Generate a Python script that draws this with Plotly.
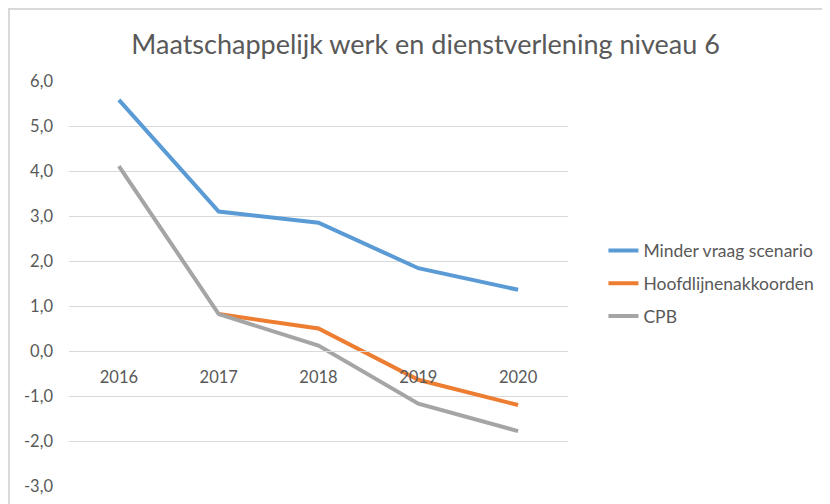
import plotly.graph_objects as go

years = ['2016', '2017', '2018', '2019', '2020']

minder_vraag = [5.58, 3.10, 2.85, 1.84, 1.36]
hoofdlijnen = [None, 0.82, 0.50, -0.64, -1.20]
cpb = [4.11, 0.82, 0.12, -1.17, -1.78]

y_ticks = [6, 5, 4, 3, 2, 1, 0, -1, -2, -3]
y_labels = ['6,0', '5,0', '4,0', '3,0', '2,0', '1,0', '0,0', '-1,0', '-2,0', '-3,0']

series = [
    ('Minder vraag scenario', minder_vraag, '#5B9BD5'),
    ('Hoofdlijnenakkoorden', hoofdlijnen, '#ED7D31'),
    ('CPB', cpb, '#A5A5A5'),
]

fig = go.Figure()
for name, vals, color in series:
    fig.add_trace(go.Scatter(
        x=years, y=vals, name=name, mode='lines',
        line=dict(color=color, width=4),
        legendgroup=name,
    ))

text_color = '#595959'
grid_color = '#D9D9D9'

# the page adds 8px body margin, so the figure is 8px smaller each way
fig.update_layout(
    width=822, height=496,
    margin=dict(l=61, r=262, t=73, b=18, autoexpand=False),
    paper_bgcolor='white', plot_bgcolor='white',
    font=dict(family='Lato', size=16, color=text_color),
    title=dict(
        text='Maatschappelijk werk en dienstverlening niveau 6',
        x=0.508, xanchor='center', y=0.927, yanchor='middle',
        font=dict(size=27, color=text_color),
    ),
    legend=dict(
        x=1.071, xanchor='left', y=0.5, yanchor='middle',
        font=dict(size=17.5, color=text_color),
        tracegroupgap=7,
    ),
    showlegend=True,
)

# x axis crosses at y = 0 (one third up the plot)
fig.update_xaxes(
    type='category', range=[-0.5, 4.5],
    anchor='free', position=3 / 9,
    showgrid=False, showline=True, linecolor=grid_color, linewidth=1,
    ticks='', ticklabelstandoff=11,
    tickfont=dict(size=16.5, color=text_color),
)
fig.update_yaxes(
    range=[-3, 6], tickvals=y_ticks, ticktext=y_labels,
    showgrid=True, gridcolor=grid_color, gridwidth=1,
    zeroline=False, showline=False, ticks='',
    ticklabelstandoff=15,
    tickfont=dict(size=16.5, color=text_color),
)

# outer chart frame (left and top edges visible)
fig.add_shape(
    type='path', xref='paper', yref='paper',
    path='M -0.1202 -0.2 L -0.1202 1.1778 L 1.7 1.1778',
    line=dict(color=grid_color, width=2),
)

fig.write_html('out.html')
